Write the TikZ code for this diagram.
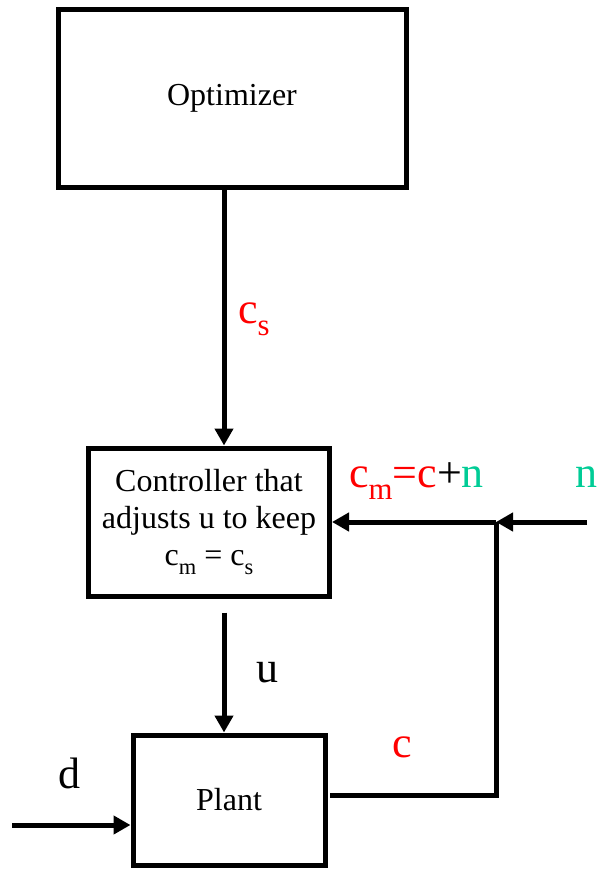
\documentclass[tikz,border=0pt]{standalone}
\usepackage{fontspec}
\setmainfont{Liberation Serif}
\usetikzlibrary{arrows.meta}
\definecolor{noisegreen}{RGB}{0,204,150}
\newcommand\lowsub[1]{\raisebox{-0.28em}{\scalebox{0.7}{#1}}}

\begin{document}
\begin{tikzpicture}[x=1pt,y=-1pt,
  block/.style={draw,line width=5pt,font=\fontsize{32}{37}\selectfont,align=center,inner sep=0pt},
  sig/.style={line width=5pt,-{Triangle[length=17pt,width=18pt]}},
  wire/.style={line width=5pt},
  lbl/.style={font=\fontsize{44}{50}\selectfont,anchor=base west,inner sep=0pt}]

\useasboundingbox (0,0) rectangle (598,869);

\node[block,minimum width=348pt,minimum height=177pt]
(opt)
at (232,98.5)
{Optimizer};

\node[block,minimum width=241pt,minimum height=148pt]
(ctrl)
at (209,522)
{Controller that\\adjusts u to keep\\c\lowsub{m} = c\lowsub{s}};

\node[block,minimum width=192pt,minimum height=130pt]
(plant)
at (229,800)
{Plant};

\coordinate (sx) at (224,0);
\coordinate (jn) at (496,522);
\coordinate (nin) at (587,522);
\coordinate (din) at (12,825);
\coordinate (pout) at (330,795);

% setpoint
\draw[sig]
(sx |- opt.south)
--
(sx |- ctrl.north);

\node[lbl,text=red]
(cs)
at (238,323)
{c\lowsub{s}};

% manipulated input
\draw[sig,shorten <=14pt]
(sx |- ctrl.south)
--
(sx |- plant.north);

\node[lbl]
(u)
at (256,682)
{u};

% disturbance
\draw[sig]
(din)
--
(din -| plant.west);

\node[lbl]
(d)
at (58,788)
{d};

% measurement
\draw[wire]
(pout)
--
(pout -| jn)
--
(jn);

\draw[sig]
(jn)
--
(jn -| ctrl.east);

\draw[sig]
(nin)
--
(jn);

\node[lbl,text=red]
(c)
at (392,757)
{c};

\node[lbl]
(cm)
at (349,487)
{\textcolor{red}{c\lowsub{m}=c}+\textcolor{noisegreen}{n}};

\node[lbl,text=noisegreen]
(n)
at (575,487)
{n};

\end{tikzpicture}
\end{document}
